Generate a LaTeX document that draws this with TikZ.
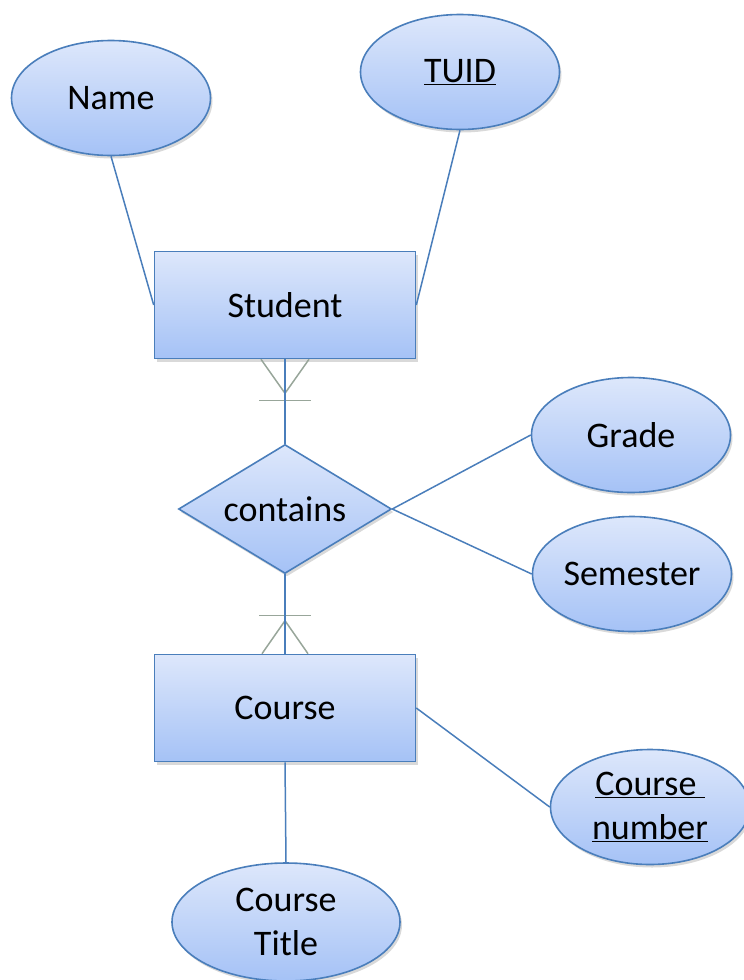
\documentclass[tikz,border=0pt]{standalone}
\usepackage{fontspec}
\setmainfont{Carlito}
\usetikzlibrary{shapes.geometric,shadows}
\definecolor{erline}{HTML}{4A7EBB}
\definecolor{ertop}{HTML}{DDE7FB}
\definecolor{erbot}{HTML}{A5C2F6}
\definecolor{crowgray}{HTML}{98A69A}
\tikzset{
  erbox/.style={draw=erline, line width=1.6pt, top color=ertop, bottom color=erbot,
    drop shadow={opacity=0.3, shadow xshift=2pt, shadow yshift=-3pt},
    inner sep=0pt, align=center, font=\fontsize{36}{44}\selectfont},
  entity/.style={erbox, rectangle, minimum width=261pt, minimum height=107pt},
  attr/.style={erbox, ellipse, minimum width=199pt, minimum height=115pt},
  relation/.style={erbox, diamond, aspect=1.65, minimum width=213pt, minimum height=129pt,
    label={[font=\fontsize{36}{44}\selectfont]center:#1}},
  link/.style={erline, line width=1.5pt},
  crow/.style={crowgray, line width=1.5pt}
}
\begin{document}
\begin{tikzpicture}[x=1pt,y=-1pt]
\useasboundingbox (0,0) rectangle (744,980);
\clip (0,0) rectangle (744,980);
\node[attr] (name) at (111,98) {Name};
\node[attr] (tuid) at (460,72) {\underline{TUID}};
\node[entity] (student) at (285,305) {Student};
\node[relation=contains] (contains) at (285,509) {};
\node[attr] (grade) at (631,435) {Grade};
\node[attr] (semester) at (632,574) {Semester};
\node[entity] (course) at (285,708) {Course};
\node[attr] (cnum) at (650,807) {\underline{Course }\\\underline{number}};
\node[attr, minimum width=228pt, minimum height=118pt] (ctitle) at (286,922) {Course\\Title};
% attributes
\draw[link] (name.south) -- (student.west);
\draw[link] (tuid.south) -- (student.east);
\draw[link] (contains.east) -- (grade.west);
\draw[link] (contains.east) -- (semester.west);
\draw[link] (course.east) -- (cnum.west);
\draw[link] (course.south) -- (ctitle.north);
% relationship with crow's feet
\draw[crow] ([xshift=-24pt]student.south) -- ++(24,34) -- ++(24,-34);
\draw[crow] ([xshift=-26pt,yshift=-41pt]student.south) -- ++(52,0);
\draw[crow] ([xshift=-23pt]course.north) -- ++(23,-33) -- ++(23,33);
\draw[crow] ([xshift=-26pt,yshift=38pt]course.north) -- ++(52,0);
\draw[link] (student.south) -- (contains.north);
\draw[link] (contains.south) -- (course.north);
\end{tikzpicture}
\end{document}
